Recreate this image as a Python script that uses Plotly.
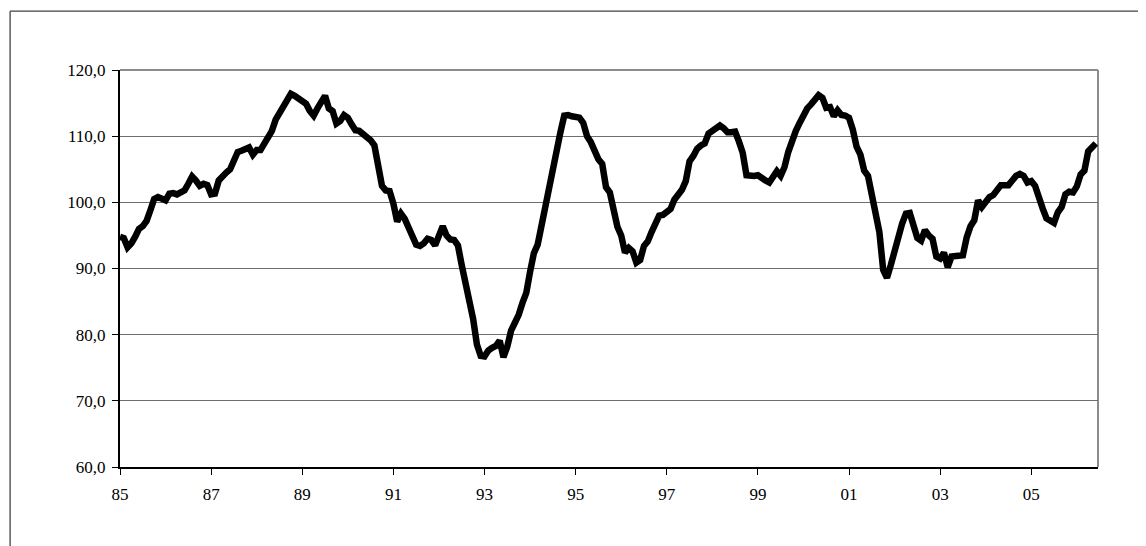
import plotly.graph_objects as go

# Monthly series, Jan 1985 .. Jun 2006
start_year = 1985
values = [
    94.8, 94.6, 93.2, 93.8, 94.8, 96.0, 96.4, 97.2, 98.8, 100.5, 100.8, 100.6,   # 1985
    100.3, 101.3, 101.4, 101.2, 101.5, 101.8, 102.8, 103.9, 103.3, 102.5, 102.8, 102.6,  # 1986
    101.2, 101.3, 103.3, 104.0, 104.5, 105.0, 106.5, 107.6, 107.8, 108.2, 108.3, 107.2,  # 1987
    107.9, 107.9, 108.8, 109.8, 110.8, 112.5, 113.4, 114.2, 115.2, 116.4, 116.1, 115.7,  # 1988
    115.4, 114.9, 113.8, 113.1, 114.2, 115.3, 116.1, 114.2, 113.8, 111.9, 112.3, 113.2,  # 1989
    112.8, 111.8, 110.9, 110.8, 110.4, 109.9, 109.4, 108.6, 105.5, 102.5, 101.8, 101.7,  # 1990
    99.8, 97.1, 98.3, 97.5, 96.2, 95.1, 93.6, 93.4, 93.8, 94.5, 94.3, 93.5,      # 1991
    95.0, 96.4, 95.0, 94.4, 94.3, 93.5, 90.5, 87.8, 85.0, 82.4, 78.5, 76.8,      # 1992
    76.7, 77.6, 78.0, 78.3, 79.1, 76.6, 78.2, 80.6, 81.8, 83.0, 84.8, 86.3,      # 1993
    89.5, 92.3, 93.6, 96.5, 100.2, 102.8, 104.9, 108.5, 110.6, 113.1, 113.2, 113.0,  # 1994
    112.9, 112.8, 112.0, 110.0, 109.1, 107.6, 106.5, 105.8, 102.3, 101.5, 98.5, 96.3,  # 1995
    95.0, 92.4, 93.1, 92.6, 90.9, 91.3, 93.4, 94.1, 95.5, 96.9, 98.0, 98.1,      # 1996
    98.6, 99.0, 100.4, 101.2, 101.9, 103.2, 106.2, 107.0, 108.1, 108.6, 108.9, 110.4,  # 1997
    110.8, 111.0, 111.6, 111.2, 110.6, 110.6, 110.7, 109.2, 107.5, 104.1, 104.0, 104.0,  # 1998
    104.1, 103.6, 103.3, 103.0, 103.8, 104.7, 104.0, 105.3, 107.6, 109.4, 110.8, 112.0,  # 1999
    113.3, 114.2, 114.8, 115.7, 116.2, 115.8, 114.3, 114.4, 113.0, 113.9, 113.2, 113.1,  # 2000
    112.8, 111.0, 108.4, 107.2, 104.8, 104.0, 101.2, 98.0, 95.5, 89.8, 88.6, 90.5,   # 2001
    92.8, 95.0, 96.8, 98.3, 98.4, 96.5, 94.6, 94.2, 95.8, 95.0, 94.5, 91.8,      # 2002
    91.5, 92.4, 90.2, 91.8, 91.8, 91.9, 92.0, 94.7, 96.4, 97.3, 100.3, 99.3,     # 2003
    100.1, 100.8, 101.1, 101.9, 102.6, 102.6, 102.6, 103.3, 104.0, 104.3, 104.0, 103.0,  # 2004
    103.2, 102.5, 100.5, 99.1, 97.6, 97.2, 96.9, 98.5, 99.3, 101.2, 101.6, 101.5,  # 2005
    102.4, 104.2, 104.8, 107.7, 108.4, 108.9,                                    # 2006
]
dates = [start_year + i / 12 for i in range(len(values))]

y_ticks = [60, 70, 80, 90, 100, 110, 120]
y_labels = ["60,0", "70,0", "80,0", "90,0", "100,0", "110,0", "120,0"]
x_ticks = [1985, 1987, 1989, 1991, 1993, 1995, 1997, 1999, 2001, 2003, 2005]
x_labels = ["85", "87", "89", "91", "93", "95", "97", "99", "01", "03", "05"]

OFF = 8  # page body margin
W, H = 1146 - OFF, 546 - OFF
# target plot-area edges in window pixels
L, R, T, B = 119.5, 1098.3, 70.3, 467.3
l_m, t_m = L - OFF, T - OFF
r_m = (OFF + W) - R
b_m = (OFF + H) - B

fig = go.Figure()
fig.add_trace(go.Scatter(
    x=dates, y=values, mode="lines",
    line=dict(color="black", width=6.5),
    showlegend=False, hoverinfo="skip",
))

font = dict(family="Liberation Serif, Times New Roman, serif", size=17, color="black")

fig.update_layout(
    width=W, height=H,
    margin=dict(l=l_m, r=r_m, t=t_m, b=b_m, pad=0),
    paper_bgcolor="white", plot_bgcolor="white",
    font=font,
    xaxis=dict(
        range=[1985, 2006.465], tickmode="array", tickvals=x_ticks, ticktext=x_labels,
        showgrid=False, zeroline=False,
        showline=True, linecolor="black", linewidth=2,
        ticks="outside", ticklen=6, tickwidth=1, tickcolor="black",
        tickfont=font, ticklabelstandoff=5,
    ),
    yaxis=dict(
        range=[60, 120], tickmode="array", tickvals=y_ticks, ticktext=y_labels,
        showgrid=True, gridcolor="#6e6e6e", gridwidth=1, zeroline=False,
        showline=True, linecolor="black", linewidth=2,
        ticks="outside", ticklen=6, tickwidth=1, tickcolor="black",
        tickfont=font, ticklabelstandoff=3,
    ),
)

pw, ph = R - L, B - T
def px_x(p):
    return (p - L) / pw
def px_y(p):
    return (B - p) / ph

shapes = [
    # plot-area border (top & right), gray
    dict(type="line", xref="paper", yref="paper", x0=0, x1=1, y0=1, y1=1,
         line=dict(color="#8c8c8c", width=2), layer="below"),
    dict(type="line", xref="paper", yref="paper", x0=1, x1=1, y0=0, y1=1,
         line=dict(color="#8c8c8c", width=2), layer="below"),
    # outer chart border (top & left)
    dict(type="line", xref="paper", yref="paper",
         x0=px_x(9.5), x1=px_x(1146 + 5), y0=px_y(11.5), y1=px_y(11.5),
         line=dict(color="#404040", width=1.3)),
    dict(type="line", xref="paper", yref="paper",
         x0=px_x(9.5), x1=px_x(9.5), y0=px_y(11.5), y1=px_y(546 + 5),
         line=dict(color="#404040", width=1.3)),
]
fig.update_layout(shapes=shapes)

fig.write_html("out.html")
